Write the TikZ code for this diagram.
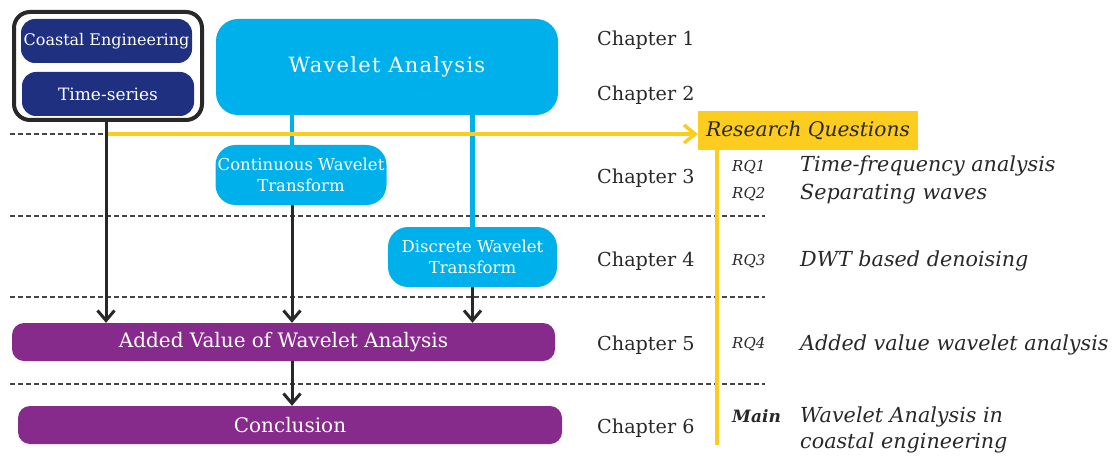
\documentclass[tikz,border=0pt]{standalone}
\usepackage{fontspec}
\setmainfont{DejaVu Serif}
\newfontfamily\spacedfont[LetterSpace=6]{DejaVu Serif}
\usepackage{tikz}
\usetikzlibrary{arrows.meta,positioning,calc}

\definecolor{navy}{RGB}{31,48,128}
\definecolor{wcyan}{RGB}{0,176,234}
\definecolor{wpurple}{RGB}{134,42,140}
\definecolor{wyellow}{RGB}{252,204,30}
\definecolor{ink}{RGB}{40,40,40}
\definecolor{sepgray}{RGB}{70,70,70}

\begin{document}
\begin{tikzpicture}[
    x=1pt, y=-1pt,
    box/.style={rectangle, rounded corners=14pt, text=white, align=center,
                inner sep=0pt, font=\fontsize{16}{20}\selectfont},
    topic/.style={box, fill=navy, minimum width=171pt, minimum height=44pt},
    method/.style={box, fill=wcyan, rounded corners=20pt, minimum width=171pt, minimum height=60pt,
                   font=\fontsize{16.5}{21}\selectfont},
    result/.style={box, fill=wpurple, rounded corners=12pt, minimum height=38pt,
                   font=\fontsize{20}{24}\selectfont},
    flow/.style={-{Straight Barb[length=10pt,width=17pt]}, line width=3pt, draw=ink},
    feed/.style={line width=4.5pt, draw=wcyan},
    rqline/.style={line width=3.5pt, draw=wyellow},
    sep/.style={draw=sepgray, line width=1.2pt, dash pattern=on 5pt off 3pt},
    chap/.style={anchor=west, text=ink, inner sep=0pt, font=\fontsize{19.2}{22}\selectfont},
    rqtag/.style={anchor=west, text=ink, inner sep=0pt, font=\fontsize{15}{18}\selectfont\itshape},
    rqtxt/.style={anchor=west, text=ink, inner sep=0pt, align=left,
                  font=\fontsize{20.7}{26}\selectfont\itshape}
]
\useasboundingbox (0,0) rectangle (1115,457);

%% ── Chapter separators ──────────────────────────────────────────
\foreach \y in {134,216,297,384}
    \draw[sep] (10,\y) -- (765,\y);

%% ── Nodes ───────────────────────────────────────────────────────
\node[draw=ink, line width=4pt, rounded corners=16pt, minimum width=188pt,
      minimum height=108pt] (frame) at (108,66) {};
\node[topic] (coastal) at (106.5,41) {Coastal Engineering};
\node[topic, minimum width=172pt, font=\fontsize{17}{20}\selectfont] (tseries) at (108,94) {Time-series};

\node[box, fill=wcyan, rounded corners=22pt, minimum width=342pt, minimum height=96pt,
      font=\fontsize{21}{24}\spacedfont] (wavelet) at (387,67) {Wavelet Analysis};

\node[method] (cwt) at (301,175) {Continuous Wavelet\\Transform};
\node[method, minimum width=169pt] (dwt) at (472.5,257) {Discrete Wavelet\\Transform};

\node[result, minimum width=543pt] (added) at (283.5,342) {Added Value of Wavelet Analysis};
\node[result, minimum width=544pt] (concl) at (290,425) {Conclusion};

\node[rectangle, fill=wyellow, minimum width=220pt, minimum height=39pt, inner sep=0pt,
      text=ink, font=\fontsize{20.2}{22}\selectfont\itshape] (rq) at (808,130.5) {Research Questions};

%% helper points for the vertical lanes
\coordinate (lane1) at (106,134);
\coordinate (lane2) at (292,0);
\coordinate (rqend) at (717,445);

%% ── Wavelet branches ────────────────────────────────────────────
\draw[feed] (wavelet.south -| lane2) -- (cwt.north -| lane2);
\draw[feed] (wavelet.south -| dwt.north) -- (dwt.north);

%% ── Research question track ─────────────────────────────────────
\draw[rqline, -{Straight Barb[length=11pt,width=18pt]}] (lane1) -- (rq.west |- lane1);
\draw[rqline] (rq.south -| rqend) -- (rqend);

%% ── Forward arrows ──────────────────────────────────────────────
\draw[flow] (frame.south -| lane1) -- (added.north -| lane1);
\draw[flow] (cwt.south -| lane2)   -- (added.north -| lane2);
\draw[flow] (dwt.south)            -- (added.north -| dwt.south);
\draw[flow] (added.south -| lane2) -- (concl.north -| lane2);

%% ── Chapters ────────────────────────────────────────────────────
\foreach \n/\y in {1/40,2/95,3/178,4/261,5/345,6/428}
    \node[chap] (ch\n) at (597,\y) {Chapter \n};

%% ── Research questions ──────────────────────────────────────────
\node[rqtag] (rq1) at (732,167) {RQ1};
\node[rqtag] (rq2) at (732,194) {RQ2};
\node[rqtag] (rq3) at (732,261) {RQ3};
\node[rqtag] (rq4) at (732,344) {RQ4};
\node[rqtag, font=\fontsize{17}{18}\selectfont\bfseries\itshape] (rqmain) at (732,416) {Main};

\node[rqtxt] (q1) at (800,166) {Time-frequency analysis};
\node[rqtxt] (q2) at (800,194) {Separating waves};
\node[rqtxt] (q3) at (800,261) {DWT based denoising};
\node[rqtxt] (q4) at (800,345) {Added value wavelet analysis};
\node[rqtxt] (qmain) at (800,430) {Wavelet Analysis in\\coastal engineering};

\end{tikzpicture}
\end{document}
